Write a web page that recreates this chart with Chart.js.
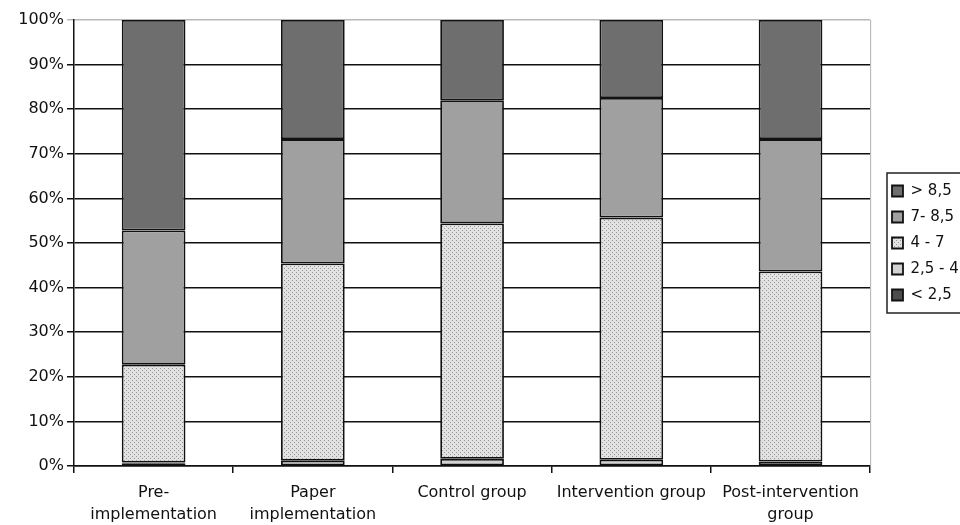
<!DOCTYPE html>
<html>
<head>
    <meta charset="UTF-8">
    <script src="https://cdn.jsdelivr.net/npm/chart.js@4/dist/chart.umd.min.js"></script>
    <style>
        body { margin: 0; background: #fff; }
    </style>
</head>
<body>
<canvas id="stack-graph" width="960" height="525"></canvas>

<script>
    // categories and series (percent of patients per glucose band)
    var groups = [
        ["Pre-", "implementation"],
        ["Paper", "implementation"],
        "Control group",
        "Intervention group",
        ["Post-intervention", "group"]
    ];
    var below25 = [0.6, 0, 0, 0, 0];
    var from25to4 = [0.2, 1.2, 1.6, 1.4, 1.0];
    var from4to7 = [21.9, 44.2, 52.8, 54.3, 42.6];
    var from7to85 = [30.1, 27.9, 27.6, 26.8, 29.7];
    var above85 = [47.2, 26.7, 18.0, 17.5, 26.7];
    var yTicks = [0, 10, 20, 30, 40, 50, 60, 70, 80, 90, 100];

    // dotted fill for the 4 - 7 band
    function dotPattern() {
        var c = document.createElement("canvas");
        c.width = 4;
        c.height = 4;
        var g = c.getContext("2d");
        g.fillStyle = "#e2e2e2";
        g.fillRect(0, 0, 4, 4);
        g.fillStyle = "#959595";
        g.fillRect(0, 0, 1, 1);
        g.fillRect(2, 2, 1, 1);
        return g.createPattern(c, "repeat");
    }

    var dots = dotPattern();

    var barData = {
        labels: groups,
        datasets: [
            { label: "< 2,5", data: below25, backgroundColor: "#4c4c4c" },
            { label: "2,5 - 4", data: from25to4, backgroundColor: "#d2d2d2" },
            { label: "4 - 7", data: from4to7, backgroundColor: dots },
            { label: "7- 8,5", data: from7to85, backgroundColor: "#a0a0a0" },
            { label: "> 8,5", data: above85, backgroundColor: "#6e6e6e" }
        ]
    };
    barData.datasets.forEach(function (ds) {
        ds.borderColor = "#111";
        ds.borderWidth = 1.8;
        ds.borderSkipped = false;
        ds.barPercentage = 0.4;
        ds.categoryPercentage = 1.0;
    });

    var font = "DejaVu Sans";

    // move the legend next to the plot, centred on it, only as tall as its items
    var legendPlace = {
        id: "legendPlace",
        afterLayout: function (chart) {
            var lg = chart.legend;
            var a = chart.chartArea;
            var w = lg.width, h = 146;
            lg.left = 881;
            lg.right = lg.left + w;
            lg.top = (a.top + a.bottom) / 2 - h / 2;
            lg.bottom = lg.top + h;
            lg.height = h;
        }
    };

    // right edge of the plot and a frame round the legend
    var framePlugin = {
        id: "frame",
        afterDraw: function (chart) {
            var ctx = chart.ctx;
            var a = chart.chartArea;
            var lg = chart.legend;
            ctx.save();
            ctx.strokeStyle = "#b0b0b0";
            ctx.lineWidth = 1;
            ctx.beginPath();
            ctx.moveTo(a.right + 0.5, a.top);
            ctx.lineTo(a.right + 0.5, a.bottom);
            ctx.stroke();

            ctx.strokeStyle = "#222";
            ctx.lineWidth = 1.5;
            ctx.strokeRect(lg.left + 6, lg.top + 3, 80, lg.height - 6);
            ctx.restore();
        }
    };

    var ctx = document.getElementById("stack-graph").getContext("2d");
    var StackChart = new Chart(ctx, {
        type: "bar",
        data: barData,
        plugins: [legendPlace, framePlugin],
        options: {
            responsive: false,
            animation: false,
            layout: { padding: { top: 20, left: 0, right: 2, bottom: 0 } },
            plugins: {
                tooltip: { enabled: false },
                legend: {
                    position: "right",
                    reverse: true,
                    labels: {
                        boxWidth: 11,
                        boxHeight: 11,
                        padding: 11,
                        color: "#111",
                        font: { family: font, size: 15 }
                    }
                }
            },
            scales: {
                x: {
                    stacked: true,
                    afterFit: function (s) { s.height = 59; },
                    border: { color: "#111", width: 1.5 },
                    grid: {
                        offset: true,
                        drawOnChartArea: false,
                        tickLength: 7,
                        color: "#111",
                        lineWidth: 1.5
                    },
                    ticks: {
                        maxRotation: 0,
                        color: "#111",
                        padding: 9,
                        font: { family: font, size: 16, lineHeight: 1.375 }
                    }
                },
                y: {
                    stacked: true,
                    min: 0,
                    max: 100,
                    afterFit: function (s) { s.width = 74; },
                    afterBuildTicks: function (s) {
                        s.ticks = yTicks.map(function (v) { return { value: v }; });
                    },
                    border: { color: "#111", width: 1.5 },
                    grid: {
                        tickLength: 7,
                        lineWidth: 1.5,
                        color: function (c) { return c.tick && c.tick.value === 100 ? "#b8b8b8" : "#111"; }
                    },
                    ticks: {
                        color: "#111",
                        padding: 3,
                        font: { family: font, size: 16 },
                        callback: function (v) { return v + "%"; }
                    }
                }
            }
        }
    });
</script>
</body>
</html>
